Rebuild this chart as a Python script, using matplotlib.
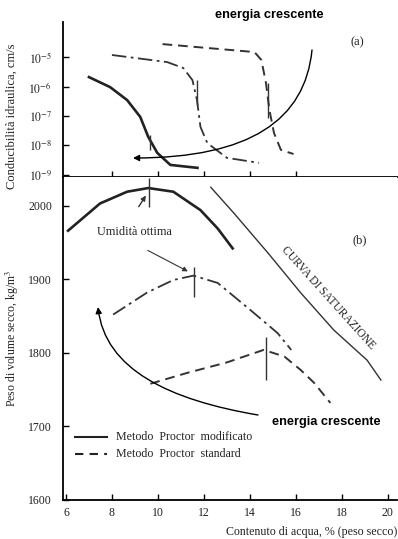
import matplotlib
matplotlib.use("Agg")
import matplotlib.pyplot as plt
import numpy as np
from matplotlib.patches import FancyArrowPatch
from matplotlib.path import Path

plt.rcParams['font.family'] = ['Liberation Serif', 'DejaVu Serif']
plt.rcParams['mathtext.fontset'] = 'stix'

# ---- Data: panel (a) hydraulic conductivity (log10 cm/s) ----
mod_a_x = [7.0, 7.92, 8.66, 9.23, 9.58, 9.97, 10.54, 11.72]
mod_a_logk = [-5.68, -6.02, -6.46, -7.03, -7.71, -8.25, -8.66, -8.76]
mid_a_x = [8.0, 10.4, 11.1, 11.5, 11.7, 11.85, 12.15, 13.0, 14.4]
mid_a_logk = [-4.93, -5.17, -5.37, -5.78, -6.46, -7.37, -7.92, -8.42, -8.59]
std_a_x = [10.2, 14.2, 14.5, 14.7, 14.85, 15.05, 15.35, 15.9]
std_a_logk = [-4.56, -4.83, -5.1, -5.88, -6.8, -7.58, -8.15, -8.29]
opt_a_x = [9.67, 11.7, 14.8]
opt_a_lo = [-8.15, -6.63, -7.07]
opt_a_hi = [-7.64, -5.78, -5.88]

# ---- Data: panel (b) dry density (kg/m3) ----
mod_b_x = [6.09, 7.48, 8.66, 9.58, 10.67, 11.85, 12.6, 13.25]
mod_b_y = [1966, 2003, 2019, 2024, 2019, 1994, 1969, 1942]
mid_b_x = [8.05, 9.53, 10.67, 11.55, 12.6, 14.03, 15.2, 15.8]
mid_b_y = [1852, 1882, 1899, 1905, 1895, 1858, 1827, 1804]
std_b_x = [9.67, 11.3, 13.0, 14.6, 15.5, 16.2, 16.8, 17.5]
std_b_y = [1758, 1773, 1787, 1804, 1795, 1777, 1759, 1732]
sat_x = [12.3, 13.3, 14.78, 16.2, 17.65, 19.1, 19.7]
sat_y = [2025, 1990, 1936, 1882, 1831, 1790, 1763]
opt_b_x = [9.6, 11.55, 14.7]
opt_b_lo = [1998, 1876, 1763]
opt_b_hi = [2037, 1917, 1822]

x_ticks = [6, 8, 10, 12, 14, 16, 18, 20]
a_ticks = [-5, -6, -7, -8, -9]
b_ticks = [1600, 1700, 1800, 1900, 2000]

W, H = 398, 539
fig = plt.figure(figsize=(W / 100, H / 100), dpi=100)

def fx(px):
    return px / W

def fy(py):
    return 1 - py / H

TXT = '#222222'
XL = (5.87, 20.4)
axa = fig.add_axes([fx(63), fy(177), fx(397) - fx(63), fy(22) - fy(177)])
axb = fig.add_axes([fx(63), fy(500), fx(397) - fx(63), fy(177) - fy(500)])

for ax in (axa, axb):
    ax.set_xlim(*XL)
    ax.spines['right'].set_visible(False)
    ax.spines['top'].set_visible(False)
    for s in ('left', 'bottom'):
        ax.spines[s].set_linewidth(1.3)
    ax.tick_params(direction='in', length=4, width=1.0, labelsize=8.5, pad=8,
                   labelcolor=TXT)

# panel (a)
axa.set_yscale('log')
axa.set_ylim(10 ** -9.07, 10 ** -3.81)
axa.plot(mod_a_x, 10 ** np.array(mod_a_logk), color='#222222', lw=1.9, ls='-')
axa.plot(mid_a_x, 10 ** np.array(mid_a_logk), color='#333333', lw=1.3,
         ls=(0, (8, 2.5, 1.5, 2.5)))
axa.plot(std_a_x, 10 ** np.array(std_a_logk), color='#333333', lw=1.4, ls=(0, (5, 3)))
axa.vlines(opt_a_x, 10 ** np.array(opt_a_lo), 10 ** np.array(opt_a_hi), color='#333333', lw=1.0)
axa.set_yticks([10.0 ** t for t in a_ticks])
axa.set_yticklabels([r'$10^{%d}$' % t for t in a_ticks])
axa.minorticks_off()
axa.set_xticks([8, 10, 12, 14, 16])
axa.tick_params(axis='x', labelbottom=False)
axa.set_ylabel('Conducibilità idraulica, cm/s', fontsize=9, color=TXT)
axa.yaxis.set_label_coords(-0.135, 0.39)
fig.text(fx(357), fy(42), '(a)', fontsize=9, ha='center', va='center', color=TXT)

# panel (b)
axb.set_ylim(1600, 2039)
axb.plot(mod_b_x, mod_b_y, color='#222222', lw=1.9, ls='-')
axb.plot(mid_b_x, mid_b_y, color='#333333', lw=1.3, ls=(0, (8, 2.5, 1.5, 2.5)))
axb.plot(std_b_x, std_b_y, color='#333333', lw=1.4, ls=(0, (5, 3)))
axb.plot(sat_x, sat_y, color='#333333', lw=1.0, ls='-')
axb.vlines(opt_b_x, opt_b_lo, opt_b_hi, color='#333333', lw=1.0)
axb.set_yticks(b_ticks)
axb.set_xticks(x_ticks)
axb.set_ylabel('Peso di volume secco, kg/m$^3$', fontsize=8.5, color=TXT)
axb.yaxis.set_label_coords(-0.125, 0.5)
axb.tick_params(axis='x', pad=5)

axb.annotate('', xy=(9.54, 2017), xytext=(9.1, 1995.5),
             arrowprops=dict(arrowstyle='-|>', lw=1.0, color='#333333', mutation_scale=7))
axb.annotate('', xy=(11.41, 1909), xytext=(9.45, 1941),
             arrowprops=dict(arrowstyle='-|>', lw=0.8, color='#333333', mutation_scale=7))
axb.text(7.35, 1964, 'Umidità ottima', fontsize=8.8, va='center', color=TXT)
fig.text(fx(360), fy(240), '(b)', fontsize=9, ha='center', va='center', color=TXT)
axb.text(17.4, 1875, 'CURVA DI SATURAZIONE', fontsize=8.3, rotation=-48,
         ha='center', va='center', rotation_mode='anchor', color=TXT)

# legend
fig.add_artist(plt.Line2D([fx(75), fx(107)], [fy(437), fy(437)], color='#222222', lw=1.5))
fig.add_artist(plt.Line2D([fx(75), fx(107)], [fy(454), fy(454)], color='#222222', lw=1.5,
                          ls=(0, (4, 3))))
fig.text(fx(116), fy(437), 'Metodo  Proctor  modificato', fontsize=8.6, va='center', color=TXT)
fig.text(fx(116), fy(454), 'Metodo  Proctor  standard', fontsize=8.6, va='center', color=TXT)

fig.text(fx(397), fy(532), 'Contenuto di acqua, % (peso secco)', fontsize=8.6,
         ha='right', va='center', color=TXT)

# "energia crescente" annotations
fig.text(fx(269), fy(15), 'energia crescente', fontsize=9.2, fontweight='bold',
         family=['Liberation Sans'], ha='center', va='center')
fig.text(fx(326), fy(422), 'energia crescente', fontsize=9.2, fontweight='bold',
         family=['Liberation Sans'], ha='center', va='center')

def bez(pts):
    verts = [(fx(x), fy(y)) for x, y in pts]
    return Path(verts, [Path.MOVETO, Path.CURVE4, Path.CURVE4, Path.CURVE4])

for pts in ([(312, 50), (305, 120), (250, 158), (133, 158)],
            [(258, 415), (170, 400), (105, 370), (98, 307)]):
    arr = FancyArrowPatch(path=bez(pts), arrowstyle='-|>', mutation_scale=9, lw=1.0,
                          color='black', transform=fig.transFigure)
    fig.add_artist(arr)

fig.savefig('out.png', dpi=100)
